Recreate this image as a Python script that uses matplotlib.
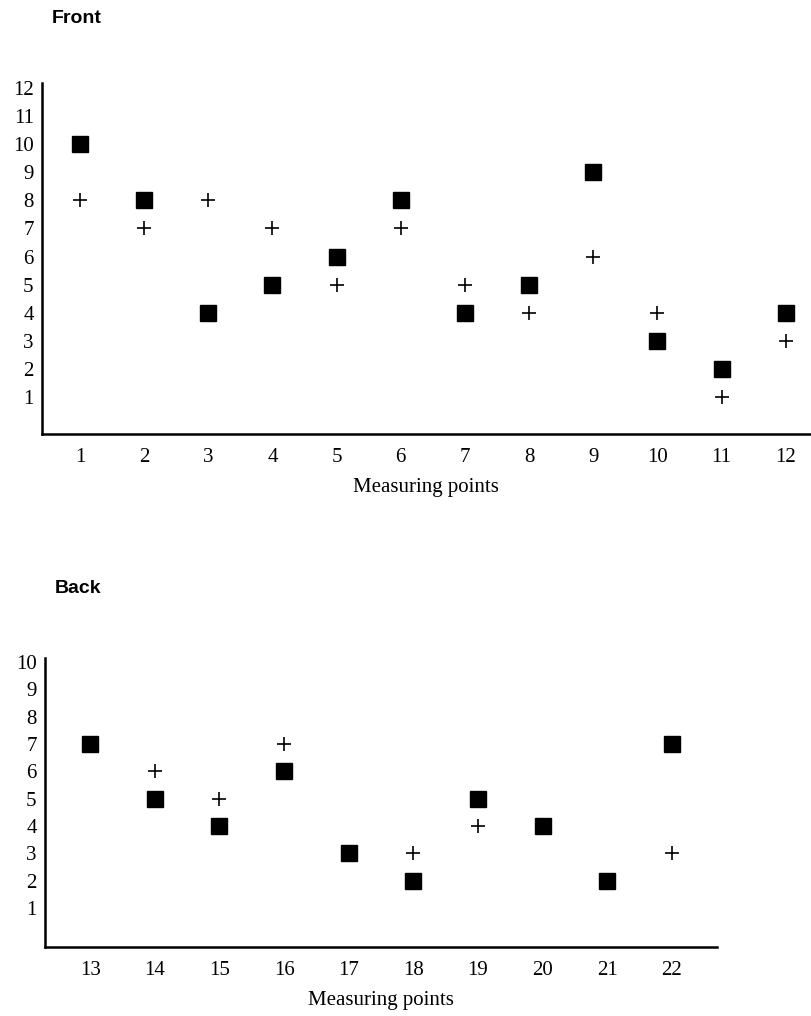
import matplotlib.pyplot as plt

# Front panel data
front_x = list(range(1, 13))
front_sq = [10, 8, 4, 5, 6, 8, 4, 5, 9, 3, 2, 4]
front_plus = [8, 7, 8, 7, 5, 7, 5, 4, 6, 4, 1, 3]

# Back panel data (crosses hidden under squares where equal)
back_x = list(range(13, 23))
back_sq = [7, 5, 4, 6, 3, 2, 5, 4, 2, 7]
back_plus = [7, 6, 5, 7, 3, 3, 4, 4, 2, 3]

serif = ['Liberation Serif', 'DejaVu Serif']
sans = ['Liberation Sans', 'DejaVu Sans']


def panel(ax, x, sq, plus, ymax, ylim, xlim):
    ax.plot(x, plus, linestyle='none', marker='+', color='black',
            markersize=10, markeredgewidth=1.2)
    ax.plot(x, sq, linestyle='none', marker='s', color='black',
            markersize=12)
    ax.set_xlim(*xlim)
    ax.set_ylim(*ylim)
    for s in ['top', 'right']:
        ax.spines[s].set_visible(False)
    for s in ['left', 'bottom']:
        ax.spines[s].set_linewidth(1.8)
    ax.set_xticks(x)
    ax.set_xticklabels([str(v) for v in x], family=serif, fontsize=15)
    ax.tick_params(axis='x', length=0, pad=10)
    ax.set_yticks(range(1, ymax + 1))
    ax.set_yticklabels([str(v) for v in range(1, ymax + 1)],
                       family=serif, fontsize=15)
    ax.tick_params(axis='y', length=0, pad=6)
    # only a few small tick marks on the y axis
    ax.set_yticks([1, 5, 10], minor=True)
    ax.tick_params(axis='y', which='minor', length=5, width=1.2)
    ax.set_xlabel('Measuring points', family=serif, fontsize=15, labelpad=8)


fig = plt.figure(figsize=(8.11, 10.16), dpi=100)
ax1 = fig.add_axes([0.0518, 0.5728, 0.948, 0.3455])
ax2 = fig.add_axes([0.0555, 0.0679, 0.8286, 0.2845])

panel(ax1, front_x, front_sq, front_plus, 12, (-0.32, 12.18), (0.41, 12.39))
panel(ax2, back_x, back_sq, back_plus, 10, (-0.43, 10.15), (12.30, 22.70))

fig.text(0.064, 0.982, 'Front', fontsize=14, fontweight='bold', family=sans,
         ha='left', va='center')
fig.text(0.068, 0.421, 'Back', fontsize=14, fontweight='bold', family=sans,
         ha='left', va='center')

fig.savefig('out.png', dpi=100)
